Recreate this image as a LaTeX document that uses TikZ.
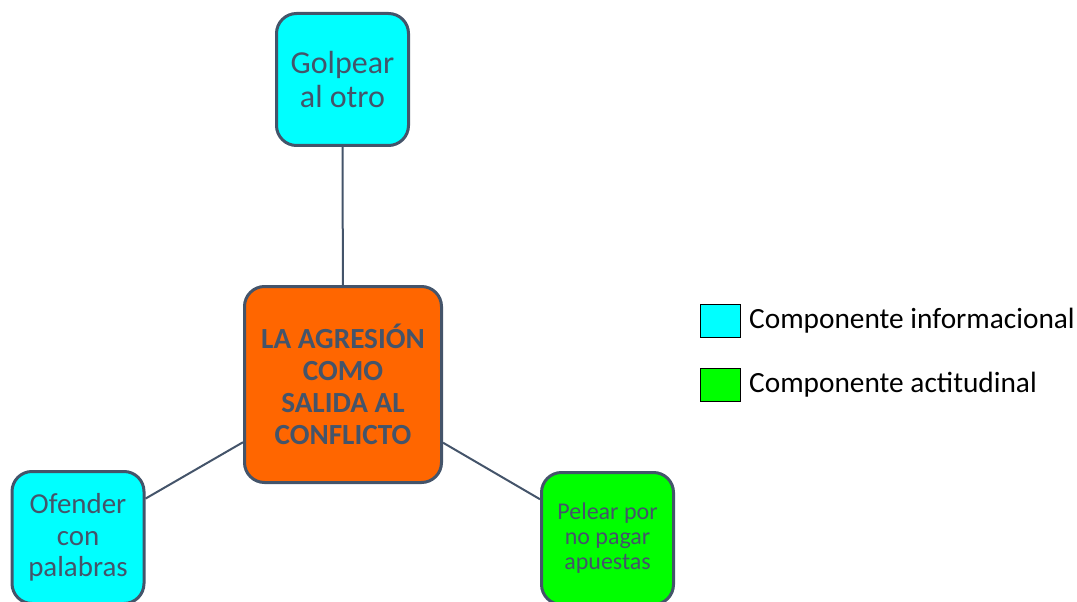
\documentclass[tikz,border=0pt]{standalone}
\usepackage{fontspec}
\setmainfont{Carlito}
\usetikzlibrary{positioning}

\definecolor{pizarra}{HTML}{44546A}
\definecolor{naranja}{HTML}{FF6600}
\definecolor{cian}{HTML}{00FFFF}
\definecolor{verde}{HTML}{00FF00}

\begin{document}
\begin{tikzpicture}[
    x=0.75pt, y=-0.75pt,
    every node/.style={align=center},
    caja/.style={draw=pizarra, line width=2.25pt, rounded corners=15pt, text=pizarra,
        minimum width=99pt, minimum height=99pt, inner sep=0pt},
    muestra/.style={draw=black, line width=0.6pt, minimum width=30pt, minimum height=24.75pt, inner sep=0pt},
    leyenda/.style={font=\fontsize{22}{26}\selectfont, text=black, inner sep=0pt}
]
    \useasboundingbox (0,0) rectangle (1077,602);

    % central idea
    \node[caja, fill=naranja, minimum width=147.75pt, minimum height=147pt,
          font=\bfseries\fontsize{21.9}{24}\selectfont] (agresion) at (343,384.5)
        {LA AGRESIÓN\\COMO\\SALIDA AL\\CONFLICTO};

    % branches
    \node[caja, fill=cian, font=\fontsize{24}{25.5}\selectfont] (golpear) at (342.5,79.5) {Golpear\\al otro};
    \node[caja, fill=cian, font=\fontsize{21.7}{23.6}\selectfont] (ofender) at (78,537.5) {Ofender\\con\\palabras};
    \node[caja, fill=verde, font=\fontsize{18}{18.75}\selectfont] (pelear) at (607.5,538.5) {Pelear por\\no pagar\\apuestas};

    \draw[pizarra, line width=1.5pt] (agresion) -- (golpear);
    \draw[pizarra, line width=1.5pt] (agresion) -- (ofender);
    \draw[pizarra, line width=1.5pt] (agresion) -- (pelear);

    % legend
    \node[muestra, fill=cian] (muestraInfo) at (720.5,321) {};
    \node[muestra, fill=verde] (muestraAct) at (720.5,384.5) {};
    \node[leyenda, right=6pt of muestraInfo] (legInfo) {Componente informacional};
    \node[leyenda, right=6pt of muestraAct] (legAct) {Componente actitudinal};
\end{tikzpicture}
\end{document}
